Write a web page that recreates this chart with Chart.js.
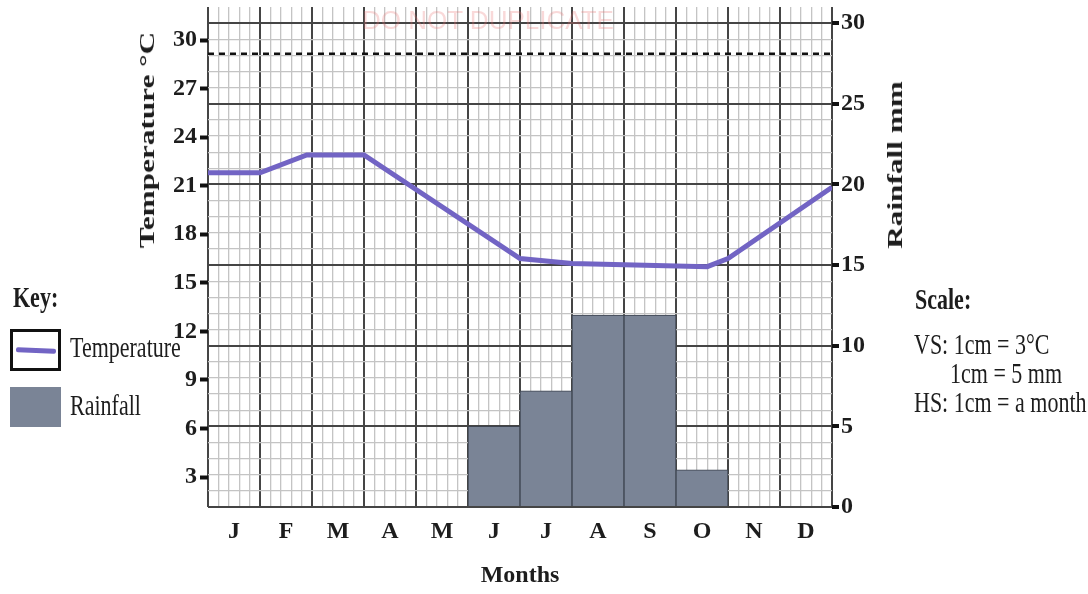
<!DOCTYPE html>
<html>
<head>
<meta charset="utf-8">
<title>Temperature and rainfall graph</title>
<script src="https://cdn.jsdelivr.net/npm/chart.js@4.4.1/dist/chart.umd.min.js"></script>
<style>
  html, body { margin: 0; padding: 0; background: #fff; }
  #wrap { position: relative; width: 1088px; height: 594px; overflow: hidden;
          font-family: 'Liberation Serif', 'Times New Roman', serif; color: #1d1d1d; }
  #c { position: absolute; left: 0; top: 0; }
  .txt { position: absolute; white-space: nowrap; font-size: 22px; line-height: 1;
         transform: scaleY(1.35); transform-origin: left top; }
  .bold { font-weight: bold; }
  .vtitle { position: absolute; white-space: nowrap; font-weight: bold; font-size: 22px; line-height: 1;
            transform: translate(-50%, -50%) rotate(-90deg) scaleX(1.42); }
  .mark { position: absolute; box-sizing: border-box; }
  #watermark { position: absolute; left: 362px; top: 5px; font-family: 'Liberation Sans', Arial, sans-serif;
               font-size: 26px; color: rgba(232, 120, 120, 0.28); white-space: nowrap; }
</style>
</head>
<body>
<div id="wrap">
  <canvas id="c" width="1088" height="594"></canvas>
  <div id="watermark">DO NOT DUPLICATE</div>

  <div class="vtitle" style="left:147px; top:140px;">Temperature °C</div>
  <div class="vtitle" style="left:895px; top:165px;">Rainfall mm</div>

  <!-- key -->
  <div class="txt bold" style="left:13px; top:283px;">Key:</div>
  <div class="mark" style="left:10px; top:329px; width:51px; height:42px; border:3px solid #111;">
    <div style="position:absolute; left:3px; top:16px; width:40px; height:5px; background:#7264c4; border-radius:2px; transform:rotate(2deg);"></div>
  </div>
  <div class="txt" style="left:70px; top:333px;">Temperature</div>
  <div class="mark" style="left:10px; top:387px; width:51px; height:40px; background:#7a8496;"></div>
  <div class="txt" style="left:70px; top:391px;">Rainfall</div>

  <!-- scale -->
  <div class="txt bold" style="left:915px; top:285px;">Scale:</div>
  <div class="txt" style="left:914px; top:330px;">VS: 1cm = 3°C</div>
  <div class="txt" style="left:950px; top:359px;">1cm = 5 mm</div>
  <div class="txt" style="left:914px; top:388px;">HS: 1cm = a month</div>
</div>

<script>
  // month categories and rainfall (mm) per month
  const months = ['J', 'F', 'M', 'A', 'M', 'J', 'J', 'A', 'S', 'O', 'N', 'D'];
  const rainfall = [null, null, null, null, null, 5, 7.2, 11.9, 11.9, 2.3, null, null];

  // temperature line vertices (x = months from left edge)
  const tempX = [0, 1, 1.9, 3, 6, 7, 9.6, 10, 12];
  const tempY = [21.8, 21.8, 22.9, 22.9, 16.5, 16.2, 16.0, 16.5, 20.9];

  // dashed level line near the top (rainfall scale)
  const dashX = [0, 12];
  const dashY = [28.1, 28.1];

  const tempTicks = [3, 6, 9, 12, 15, 18, 21, 24, 27, 30];
  const rainTicks = [0, 5, 10, 15, 20, 25, 30];

  const colors = {
    temp: '#7264c4',
    rain: '#7a8496',
    rainEdge: '#3d434f',
    major: '#454545',
    minor: '#c4c4c4',
    text: '#1d1d1d'
  };

  const tickFont = { family: "'Liberation Serif', 'Times New Roman', serif", size: 24, weight: 'bold' };

  // value of the tick a scriptable option is resolved for (NaN when none)
  const tv = c => (c && c.tick) ? c.tick.value : NaN;
  const isWhole = v => Math.abs(v - Math.round(v)) < 1e-6;

  // fixed axis sizes so the plot area sits where the paper grid is
  const fixWidth = w => s => { s.width = w; s.paddingTop = 0; s.paddingBottom = 0; };
  const fixHeight = h => s => { s.height = h; s.paddingLeft = 0; s.paddingRight = 0; };

  new Chart(document.getElementById('c'), {
    type: 'bar',
    data: {
      labels: months,
      datasets: [
        {
          type: 'line',
          label: 'Temperature',
          data: tempX.map((x, i) => ({ x: x, y: tempY[i] })),
          xAxisID: 'xl',
          yAxisID: 'yl',
          borderColor: colors.temp,
          borderWidth: 5,
          pointRadius: 0,
          tension: 0,
          order: 0
        },
        {
          type: 'line',
          label: 'level',
          data: dashX.map((x, i) => ({ x: x, y: dashY[i] })),
          xAxisID: 'xl',
          yAxisID: 'y',
          borderColor: '#111',
          borderWidth: 2.5,
          borderDash: [6, 5],
          pointRadius: 0,
          order: 1
        },
        {
          type: 'bar',
          label: 'Rainfall',
          data: rainfall,
          xAxisID: 'x',
          yAxisID: 'y',
          backgroundColor: colors.rain,
          borderColor: colors.rainEdge,
          borderWidth: 1,
          grouped: false,
          barPercentage: 1,
          categoryPercentage: 1,
          order: 2
        }
      ]
    },
    options: {
      responsive: false,
      animation: false,
      events: [],
      layout: { padding: { left: 148, right: 196, top: 7, bottom: 0 } },
      plugins: {
        legend: { display: false },
        tooltip: { enabled: false }
      },
      scales: {
        x: {
          type: 'category',
          position: 'bottom',
          offset: true,
          grid: { display: false, drawTicks: false },
          border: { display: false },
          ticks: { font: tickFont, color: colors.text, padding: 10 },
          title: { display: true, text: 'Months', font: tickFont, color: colors.text, padding: { top: 0, bottom: 4 } },
          afterFit: fixHeight(87)
        },
        xl: {
          type: 'linear',
          position: 'top',
          min: 0,
          max: 12,
          offset: false,
          ticks: { display: false, stepSize: 0.2, autoSkip: false },
          grid: {
            offset: false,
            drawTicks: false,
            color: c => isWhole(tv(c)) ? colors.major : colors.minor,
            lineWidth: c => isWhole(tv(c)) ? 2 : 1.3
          },
          border: { display: false },
          afterFit: fixHeight(0)
        },
        y: {
          position: 'right',
          min: 0,
          max: 31,
          ticks: {
            stepSize: 1,
            autoSkip: false,
            callback: v => rainTicks.includes(v) ? v : '',
            font: tickFont,
            color: colors.text,
            padding: 2
          },
          grid: {
            color: c => tv(c) === 31 ? 'rgba(0,0,0,0)' : (tv(c) % 5 === 0 ? colors.major : colors.minor),
            lineWidth: c => tv(c) % 5 === 0 ? 2 : 1.3,
            tickLength: 7,
            tickWidth: 4,
            tickColor: c => rainTicks.includes(tv(c)) ? '#111' : 'rgba(0,0,0,0)'
          },
          border: { display: false },
          afterFit: fixWidth(60)
        },
        yl: {
          position: 'left',
          min: 1.15,
          max: 32.04,
          afterBuildTicks: s => { s.ticks = tempTicks.map(v => ({ value: v })); },
          ticks: { font: tickFont, color: colors.text, padding: 3, autoSkip: false },
          grid: { drawOnChartArea: false, tickLength: 8, tickWidth: 4, tickColor: '#111' },
          border: { display: false },
          afterFit: fixWidth(60)
        }
      }
    }
  });
</script>
</body>
</html>
